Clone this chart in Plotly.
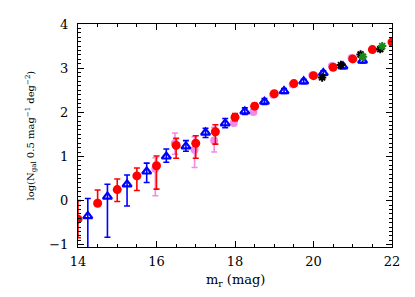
import plotly.graph_objects as go

# Red filled circles
red_x = [14.0, 14.5, 15.0, 15.5, 16.0, 16.5, 17.0, 17.5, 18.0, 18.5, 19.0, 19.5, 20.0, 20.5, 21.0, 21.5, 22.0]
red_y = [-0.42, -0.06, 0.25, 0.56, 0.79, 1.25, 1.30, 1.56, 1.89, 2.14, 2.42, 2.65, 2.83, 3.02, 3.21, 3.42, 3.59]
red_ep = [0.42, 0.30, 0.24, 0.18, 0.22, 0.16, 0.17, 0.16, 0.08, 0.06, 0.05, 0.04, 0.03, 0.03, 0.03, 0.02, 0.02]
red_em = [0.42, 0.0, 0.27, 0.33, 0.53, 0.29, 0.34, 0.28, 0.08, 0.06, 0.05, 0.04, 0.03, 0.03, 0.03, 0.02, 0.02]

# Blue open triangles
blue_x = [14.25, 14.75, 15.25, 15.75, 16.25, 16.75, 17.25, 17.75, 18.25, 18.75, 19.25, 19.75, 20.25, 20.75, 21.25]
blue_y = [-0.35, 0.09, 0.37, 0.66, 1.00, 1.23, 1.54, 1.75, 2.02, 2.24, 2.48, 2.70, 2.89, 3.04, 3.17]
blue_ep = [0.40, 0.28, 0.21, 0.19, 0.17, 0.13, 0.10, 0.11, 0.08, 0.07, 0.06, 0.05, 0.05, 0.05, 0.05]
blue_em = [0.80, 0.92, 0.49, 0.25, 0.13, 0.11, 0.11, 0.10, 0.07, 0.06, 0.05, 0.05, 0.05, 0.05, 0.05]

# Pink (violet) points mostly hidden behind red
pink_x = [15.97, 16.47, 16.97, 17.47, 17.97, 18.47, 18.97, 19.47, 19.97, 20.47, 20.97]
pink_y = [0.72, 1.30, 1.15, 1.36, 1.76, 2.01, 2.40, 2.63, 2.84, 3.05, 3.23]
pink_ep = [0.25, 0.23, 0.30, 0.30, 0.06, 0.05, 0.04, 0.03, 0.03, 0.03, 0.03]
pink_em = [0.61, 0.25, 0.40, 0.26, 0.06, 0.05, 0.04, 0.03, 0.03, 0.03, 0.03]

# Black crosses
black_x = [20.22, 20.70, 21.20, 21.70]
black_y = [2.79, 3.07, 3.31, 3.43]

# Green stars
green_x = [21.26, 21.75]
green_y = [3.26, 3.50]

x_ticks = [14, 16, 18, 20, 22]
y_ticks = [-1, 0, 1, 2, 3, 4]
x_title = "m<sub>r</sub> (mag)"
y_title = "log(N<sub>gal</sub> 0.5 mag<sup>\u22121</sup> deg<sup>\u22122</sup>)"

FONT = "DejaVu Serif"

fig = go.Figure()

fig.add_trace(go.Scatter(
    x=pink_x, y=pink_y, mode="markers",
    marker=dict(symbol="circle", size=8, color="#f08ce6"),
    error_y=dict(type="data", symmetric=False, array=pink_ep, arrayminus=pink_em,
                 color="#f08ce6", thickness=1.6, width=3),
    showlegend=False))

fig.add_trace(go.Scatter(
    x=red_x, y=red_y, mode="markers",
    marker=dict(symbol="circle", size=9, color="#ff0000"),
    error_y=dict(type="data", symmetric=False, array=red_ep, arrayminus=red_em,
                 color="#ff0000", thickness=1.6, width=3),
    showlegend=False))

fig.add_trace(go.Scatter(
    x=blue_x, y=blue_y, mode="markers",
    marker=dict(symbol="triangle-up-open", size=8, color="#0000ff",
                line=dict(width=2.2, color="#0000ff")),
    error_y=dict(type="data", symmetric=False, array=blue_ep, arrayminus=blue_em,
                 color="#0000ff", thickness=1.6, width=3),
    showlegend=False))

fig.add_trace(go.Scatter(
    x=black_x, y=black_y, mode="markers",
    marker=dict(symbol="asterisk-open", size=7, color="#000000",
                line=dict(width=2, color="#000000")),
    showlegend=False))

fig.add_trace(go.Scatter(
    x=green_x, y=green_y, mode="markers",
    marker=dict(symbol="asterisk-open", size=7, color="#1a8a1a",
                line=dict(width=2, color="#1a8a1a")),
    showlegend=False))

axis_common = dict(
    showgrid=False, zeroline=False, showline=True, linecolor="black", linewidth=1,
    mirror="allticks", ticks="inside", ticklen=6, tickwidth=1, tickcolor="black",
    tickfont=dict(family=FONT, size=13, color="black"), automargin=False,
)

# The page body has a default 8px margin, so the figure is offset by 8px.
fig.update_layout(
    width=399, height=289,
    margin=dict(l=70, r=15, t=16, b=50),
    paper_bgcolor="white", plot_bgcolor="white",
    font=dict(family=FONT, size=13, color="black"),
    xaxis=dict(
        range=[14, 22], tickvals=x_ticks, ticktext=[str(v) for v in x_ticks],
        minor=dict(dtick=0.5, tick0=14, ticklen=3, ticks="inside", tickcolor="black"),
        ticklabelstandoff=2,
        **axis_common),
    yaxis=dict(
        range=[-1.05, 4.0], tickvals=y_ticks, ticktext=["\u22121", "0", "1", "2", "3", "4"],
        minor=dict(dtick=0.1, tick0=0, ticklen=3, ticks="inside", tickcolor="black"),
        ticklabelstandoff=6,
        **axis_common),
    annotations=[
        dict(text=x_title, xref="paper", yref="paper", x=0.5, y=0,
             xanchor="center", yanchor="middle", yshift=-33, showarrow=False,
             font=dict(family=FONT, size=13, color="black")),
        dict(text=y_title, xref="paper", yref="paper", x=0, y=0.5, textangle=-90,
             xanchor="center", yanchor="middle", xshift=-48, showarrow=False,
             font=dict(family=FONT, size=10, color="black")),
    ],
)

fig.write_html("out.html")
